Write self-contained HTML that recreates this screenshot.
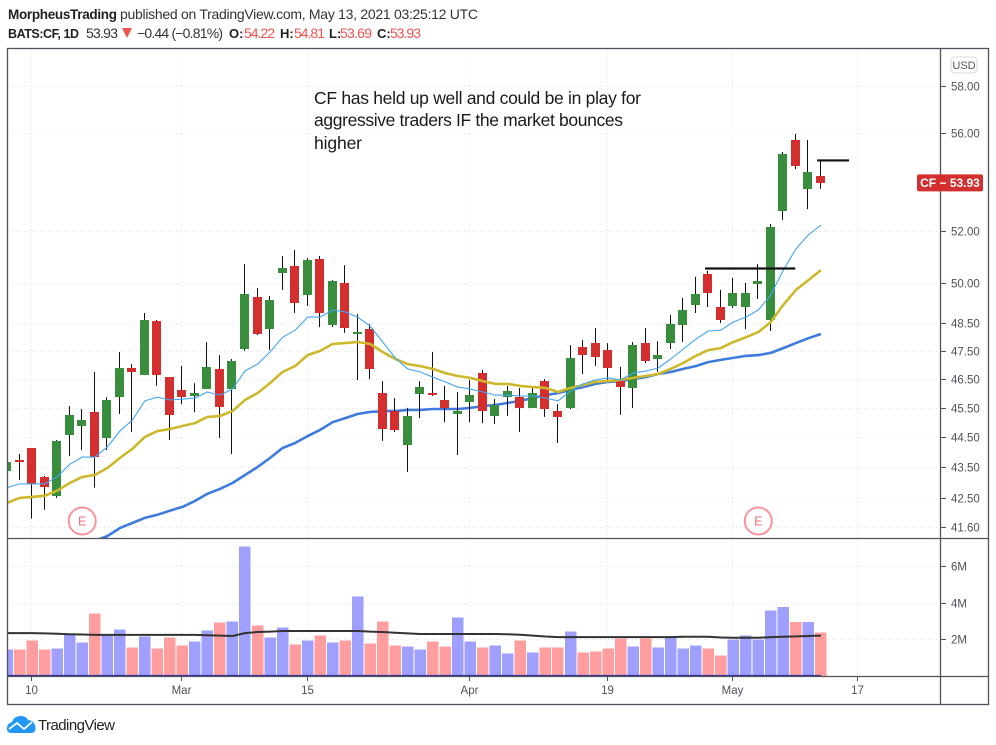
<!DOCTYPE html>
<html lang="en">
<head>
<meta charset="utf-8">
<title>CF daily chart</title>
<style>
html,body{margin:0;padding:0;background:#fff;}
body{width:996px;height:745px;overflow:hidden;}
svg{display:block;font-family:"Liberation Sans",sans-serif;}
</style>
</head>
<body>
<svg id="chart" xmlns="http://www.w3.org/2000/svg" width="996" height="745" viewBox="0 0 996 745">
  <defs>
    <clipPath id="price-clip"><rect x="8" y="49" width="932" height="489"/></clipPath>
    <clipPath id="volume-clip"><rect x="8" y="539" width="932" height="137"/></clipPath>
  </defs>
  <rect x="0" y="0" width="996" height="745" fill="#ffffff"/>

  <g font-size="14" fill="#1f1f1f">
    <text x="8" y="19" font-weight="bold" font-size="13.5" textLength="109" lengthAdjust="spacing">MorpheusTrading</text>
    <text x="120" y="19" textLength="358" fill="#333">published on TradingView.com, May 13, 2021 03:25:12 UTC</text>
    <text x="8" y="38" font-weight="bold" font-size="12.5" textLength="71" lengthAdjust="spacing">BATS:CF, 1D</text>
    <text x="86" y="38" textLength="32" fill="#333">53.93</text>
    <polygon points="122,28 132,28 127,38" fill="#ef5350"/>
    <text x="137" y="38" textLength="86" fill="#333">−0.44 (−0.81%)</text>
    <text x="229" y="38" font-weight="bold" font-size="13">O:</text>
    <text x="244" y="38" textLength="31" fill="#ef5350">54.22</text>
    <text x="280" y="38" font-weight="bold" font-size="13">H:</text>
    <text x="294" y="38" textLength="31" fill="#ef5350">54.81</text>
    <text x="329" y="38" font-weight="bold" font-size="13">L:</text>
    <text x="340" y="38" textLength="32" fill="#ef5350">53.69</text>
    <text x="377" y="38" font-weight="bold" font-size="13">C:</text>
    <text x="390" y="38" textLength="31" fill="#ef5350">53.93</text>
  </g>

  <g id="grid"></g>
  <g id="volume-layer" clip-path="url(#volume-clip)"></g>
  <g id="ma-layer" clip-path="url(#price-clip)"></g>
  <g id="candle-layer" clip-path="url(#price-clip)"></g>
  <g id="ma-top-layer" clip-path="url(#price-clip)"></g>
  <g id="event-layer" clip-path="url(#price-clip)"></g>
  <g id="drawing-layer"></g>

  <g font-size="17.5" fill="#1a1a1a">
    <text x="314" y="104" textLength="327" lengthAdjust="spacing">CF has held up well and could be in play for</text>
    <text x="314" y="126" textLength="309" lengthAdjust="spacing">aggressive traders IF the market bounces</text>
    <text x="314" y="149" textLength="48" lengthAdjust="spacing">higher</text>
  </g>

  <g fill="none" stroke="#50535e" stroke-width="1.3">
    <rect x="7.5" y="48.5" width="981" height="656"/>
    <line x1="940.5" y1="48.5" x2="940.5" y2="704.5"/>
    <line x1="7.5" y1="538.5" x2="988.5" y2="538.5"/>
    <line x1="7.5" y1="676.5" x2="988.5" y2="676.5"/>
  </g>

  <g id="axis-layer"></g>

  <g>
    <rect x="951" y="57" width="26" height="16" rx="4" fill="#fff" stroke="#d6d8dd"/>
    <text x="964" y="69" font-size="11" fill="#555" text-anchor="middle">USD</text>
  </g>

  <g>
    <path d="M12 733 Q6 733 7 727 Q8 723 12 722 Q14 716 21 716 Q26 716 28 720 Q33 720 35 725 Q37 733 31 733 Z" fill="#2196f3"/>
    <polyline points="9,729 17,723 24,729 32,722" fill="none" stroke="#ffffff" stroke-width="1.8"/>
    <text x="38" y="730" font-size="15" fill="#222" textLength="77" lengthAdjust="spacing">TradingView</text>
  </g>
</svg>

<script>
// ---- Data ----
const opens = [43.38,43.74,44.14,43.19,42.58,44.58,44.88,45.36,44.48,45.87,46.89,46.64,48.58,46.57,46.12,45.91,46.15,46.86,46.15,47.57,49.48,48.29,50.38,50.65,49.55,50.91,48.44,50.00,48.11,48.29,46.01,45.39,44.24,45.98,46.01,45.77,45.29,45.70,46.71,45.22,45.87,45.87,45.50,46.43,45.39,45.50,47.64,47.78,47.53,46.43,46.19,47.78,47.21,47.78,48.44,49.18,50.34,49.10,49.14,49.10,49.96,48.62,52.79,55.71,53.68,54.22];
const highs = [43.67,43.94,44.14,43.22,44.41,45.56,45.46,46.75,45.87,47.46,47.03,48.88,48.62,46.57,46.96,46.36,47.82,47.35,47.21,50.72,49.81,49.51,51.03,51.26,50.95,51.03,50.11,50.68,48.84,48.47,46.43,45.84,45.50,46.43,47.46,46.26,46.05,46.47,46.82,45.80,46.26,46.19,46.19,46.50,45.63,47.71,47.89,48.33,47.78,46.93,47.82,48.33,47.85,48.81,49.44,50.23,50.46,49.74,50.19,50.00,50.72,52.28,55.20,55.96,55.71,54.81];
const lows = [43.38,43.09,41.85,42.13,42.51,43.87,44.07,42.84,44.07,45.29,44.68,46.64,46.26,44.41,45.63,45.36,46.15,44.48,43.94,47.50,48.07,47.53,49.74,48.88,49.14,48.36,48.36,48.15,46.47,46.50,44.38,44.68,43.35,45.15,45.91,45.01,43.91,45.01,44.98,44.95,45.22,44.68,45.50,45.19,44.31,45.46,46.68,46.96,46.47,45.26,45.50,47.07,46.75,47.57,47.82,48.88,49.10,48.51,49.07,48.29,49.40,48.22,52.44,54.49,52.87,53.69];
const closes = [43.67,43.67,42.96,42.87,44.38,45.26,45.08,43.84,45.77,46.89,46.75,48.62,46.64,45.26,45.87,46.01,46.93,45.53,47.14,49.59,48.11,49.36,50.57,49.25,50.87,48.88,50.08,48.33,48.18,46.86,44.78,44.75,45.22,46.22,45.94,45.50,45.39,45.94,45.39,45.60,46.08,45.50,46.01,45.46,45.19,47.25,47.35,47.28,46.89,46.22,47.71,47.14,47.35,48.47,48.99,49.59,49.63,48.62,49.63,49.63,50.08,52.16,55.12,54.62,54.37,53.93];
const fastMA = [42.84,42.96,42.96,42.96,43.19,43.60,43.84,43.84,44.17,44.71,45.08,45.74,45.87,45.77,45.80,45.84,46.05,45.94,46.15,46.79,47.03,47.46,47.99,48.25,48.73,48.73,48.99,48.92,48.73,48.40,47.82,47.25,46.86,46.75,46.57,46.40,46.22,46.15,46.05,45.94,45.94,45.91,45.91,45.84,45.74,46.08,46.33,46.47,46.54,46.47,46.71,46.78,46.89,47.21,47.57,47.92,48.22,48.25,48.55,48.73,48.99,49.55,50.49,51.30,51.85,52.24];
const midMA = [42.35,42.51,42.54,42.58,42.74,42.99,43.19,43.25,43.48,43.81,44.11,44.51,44.71,44.78,44.88,44.98,45.19,45.22,45.39,45.77,46.01,46.36,46.75,46.96,47.35,47.50,47.75,47.78,47.82,47.75,47.46,47.21,47.03,46.96,46.86,46.71,46.61,46.54,46.43,46.33,46.33,46.26,46.22,46.19,46.05,46.19,46.29,46.40,46.43,46.47,46.54,46.61,46.68,46.86,47.07,47.32,47.53,47.60,47.82,47.99,48.18,48.55,49.18,49.74,50.11,50.49];
const slowMA = [null,null,null,null,null,null,null,41.15,41.30,41.55,41.71,41.87,41.97,42.10,42.22,42.41,42.64,42.80,42.99,43.25,43.51,43.81,44.14,44.31,44.54,44.75,45.01,45.15,45.29,45.36,45.39,45.39,45.43,45.43,45.46,45.46,45.46,45.50,45.56,45.60,45.67,45.74,45.84,45.94,46.01,46.12,46.22,46.33,46.40,46.43,46.50,46.57,46.68,46.75,46.86,46.96,47.10,47.18,47.25,47.32,47.35,47.43,47.60,47.78,47.96,48.11];
const volumes = [1.44,1.44,1.93,1.44,1.49,2.31,1.82,3.40,2.20,2.53,1.55,2.15,1.49,2.09,1.65,1.87,2.47,2.91,2.96,7.05,2.75,2.09,2.64,1.71,1.93,2.20,1.82,1.93,4.33,1.76,2.96,1.65,1.60,1.44,1.87,1.60,3.18,1.87,1.55,1.65,1.22,1.93,1.27,1.55,1.55,2.42,1.27,1.33,1.49,2.04,1.60,2.04,1.55,2.10,1.51,1.67,1.51,1.13,2.00,2.22,2.00,3.58,3.75,2.93,2.93,2.38];
const volumeMA = [2.34,2.34,2.34,2.32,2.30,2.28,2.26,2.24,2.24,2.24,2.24,2.24,2.24,2.24,2.24,2.24,2.22,2.20,2.18,2.34,2.40,2.42,2.45,2.45,2.45,2.45,2.45,2.45,2.45,2.42,2.40,2.36,2.32,2.29,2.29,2.29,2.29,2.29,2.29,2.29,2.27,2.25,2.20,2.15,2.12,2.12,2.12,2.12,2.12,2.12,2.12,2.12,2.12,2.12,2.14,2.14,2.14,2.10,2.08,2.08,2.08,2.12,2.14,2.16,2.18,2.20];
const priceTicks = [58,56,52,50,48.5,47.5,46.5,45.5,44.5,43.5,42.5,41.6];
const volumeTicks = [2,4,6];
const timeTickIndex = [2,14,24,37,48,58,68];
const timeTickLabels = ["10","Mar","15","Apr","19","May","17"];
const earningsIndex = [6,60];
const drawnLevelPrice = [50.55,54.85];
const drawnLevelStart = [55.75,64.7];
const drawnLevelEnd = [62.95,67.25];

// ---- Axis functions ----
function xAt(i){ return 7.1 + 12.52 * i; }
function xPixel(i){ return Math.floor(xAt(i) - 0.5); }
function yPrice(p){ return 283 - 1324 * Math.log(p / 50); }
function yVolume(v){ return 676 - 18.35 * v; }

const NS = "http://www.w3.org/2000/svg";
function mk(tag, parent, attrs){
  const el = document.createElementNS(NS, tag);
  for (const k in attrs) el.setAttribute(k, attrs[k]);
  parent.appendChild(el);
  return el;
}
const grid = document.getElementById("grid");
const volumeLayer = document.getElementById("volume-layer");
const maLayer = document.getElementById("ma-layer");
const maTopLayer = document.getElementById("ma-top-layer");
const candleLayer = document.getElementById("candle-layer");
const eventLayer = document.getElementById("event-layer");
const drawingLayer = document.getElementById("drawing-layer");
const axisLayer = document.getElementById("axis-layer");
const gridStyle = {stroke:"#dfe1e5", "stroke-width":1, "stroke-dasharray":"1 3", fill:"none"};
const axisInk = "#4e5259";

// ---- Price grid and labels ----
priceTicks.forEach(function(p){
  const y = Math.round(yPrice(p)) + 0.5;
  const g = mk("line", grid, Object.assign({x1:8, x2:940, y1:y, y2:y}, gridStyle));
  
  
  const t = mk("line", axisLayer, {x1:941, x2:946, y1:y, y2:y, stroke:"#50535e", "stroke-width":1});
  
  
  const l = mk("text", axisLayer, {x:951, y:y+4, "font-size":11.5, fill:axisInk});
  
  
  l.textContent = p.toFixed(2);
});

// ---- Volume grid and labels ----
volumeTicks.forEach(function(v){
  const y = Math.round(yVolume(v)) + 0.5;
  const g = mk("line", grid, Object.assign({x1:8, x2:940, y1:y, y2:y}, gridStyle));
  
  
  const t = mk("line", axisLayer, {x1:941, x2:946, y1:y, y2:y, stroke:"#50535e", "stroke-width":1});
  
  
  const l = mk("text", axisLayer, {x:951, y:y+4, "font-size":11.5, fill:axisInk});
  
  
  l.textContent = v + "M";
});

// ---- Time grid and labels ----
timeTickIndex.forEach(function(idx, n){
  const x = xPixel(idx) + 0.5;
  const g = mk("line", grid, Object.assign({x1:x, x2:x, y1:49, y2:676}, gridStyle));
  
  
  const t = mk("line", axisLayer, {x1:x, x2:x, y1:677, y2:681, stroke:"#50535e", "stroke-width":1});
  
  
  const l = mk("text", axisLayer, {x:x, y:694, "font-size":11.5, fill:axisInk, "text-anchor":"middle"});
  
  
  l.textContent = timeTickLabels[n];
});

// ---- Volume bars ----
volumes.forEach(function(v, i){
  const y = yVolume(v);
  const b = mk("rect", volumeLayer, {x:xAt(i)-5.75, y:y, width:11.5, height:676-y,
    fill: closes[i] >= opens[i] ? "#9f9ffd" : "#ff9d9f", "shape-rendering":"crispEdges"});
  
  
});
const volumeBase = mk("line", volumeLayer, {x1:8, x2:xAt(volumes.length-1), y1:yVolume(0)-0.5, y2:yVolume(0)-0.5, stroke:"#3333a0", "stroke-width":1.2});



function linePoints(values, yFn){
  const pts = [];
  values.forEach(function(v, i){
    if (v !== null) pts.push(xAt(i).toFixed(1) + "," + yFn(v).toFixed(1));
  });
  return pts.join(" ");
}
const volLine = mk("polyline", volumeLayer, {points:linePoints(volumeMA, yVolume), fill:"none", stroke:"#333333", "stroke-width":2, "stroke-linejoin":"round"});



// ---- Candles ----
opens.forEach(function(o, i){
  const c = closes[i];
  const up = c >= o;
  const x = xPixel(i);
  const wick = mk("line", candleLayer, {x1:x+0.5, x2:x+0.5, y1:yPrice(highs[i]), y2:yPrice(lows[i]), stroke:"#111", "stroke-width":1});
  
  
  const top = Math.round(yPrice(Math.max(o, c)));
  const bot = Math.round(yPrice(Math.min(o, c)));
  const body = mk("rect", candleLayer, {x:x-4, y:top, width:9, height:Math.max(2, bot-top),
    fill: up ? "#388e3c" : "#d32f2f", "shape-rendering":"crispEdges"});
  
  
});

// ---- Moving averages ----
const slowLine = mk("polyline", maLayer, {points:linePoints(slowMA, yPrice), fill:"none", stroke:"#3d7bdc", "stroke-width":2.6, "stroke-linejoin":"round"});


const midLine = mk("polyline", maTopLayer, {points:linePoints(midMA, yPrice), fill:"none", stroke:"#cdb82c", "stroke-width":2.6, "stroke-linejoin":"round"});


const fastLine = mk("polyline", maTopLayer, {points:linePoints(fastMA, yPrice), fill:"none", stroke:"#42a5f5", "stroke-width":1.1, "stroke-linejoin":"round"});



// ---- Earnings markers ----
earningsIndex.forEach(function(idx){
  const x = xAt(idx);
  const ring = mk("circle", eventLayer, {cx:x, cy:521, r:13.5, fill:"#ffffff", stroke:"#f5959d", "stroke-width":2});
  
  
  const e = mk("text", eventLayer, {x:x, y:525.5, "font-size":12.5, fill:"#f2707c", "text-anchor":"middle"});
  
  
  e.textContent = "E";
});

// ---- Drawn horizontal levels ----
drawnLevelPrice.forEach(function(p, n){
  const y = yPrice(p);
  const l = mk("line", drawingLayer, {x1:xAt(drawnLevelStart[n]), x2:xAt(drawnLevelEnd[n]), y1:y, y2:y, stroke:"#111", "stroke-width":2.2});
  
  
});

// ---- Last price label ----
const lastClose = closes[closes.length-1];
const lastY = yPrice(lastClose);
const tag = mk("rect", axisLayer, {x:917, y:lastY-8.5, width:66, height:17, rx:2, fill:"#d32f2f"});


const tagText = mk("text", axisLayer, {x:950, y:lastY+4, "font-size":12, "font-weight":"bold", fill:"#ffffff", "text-anchor":"middle"});


tagText.textContent = "CF − " + lastClose.toFixed(2);
</script>
</body>
</html>
